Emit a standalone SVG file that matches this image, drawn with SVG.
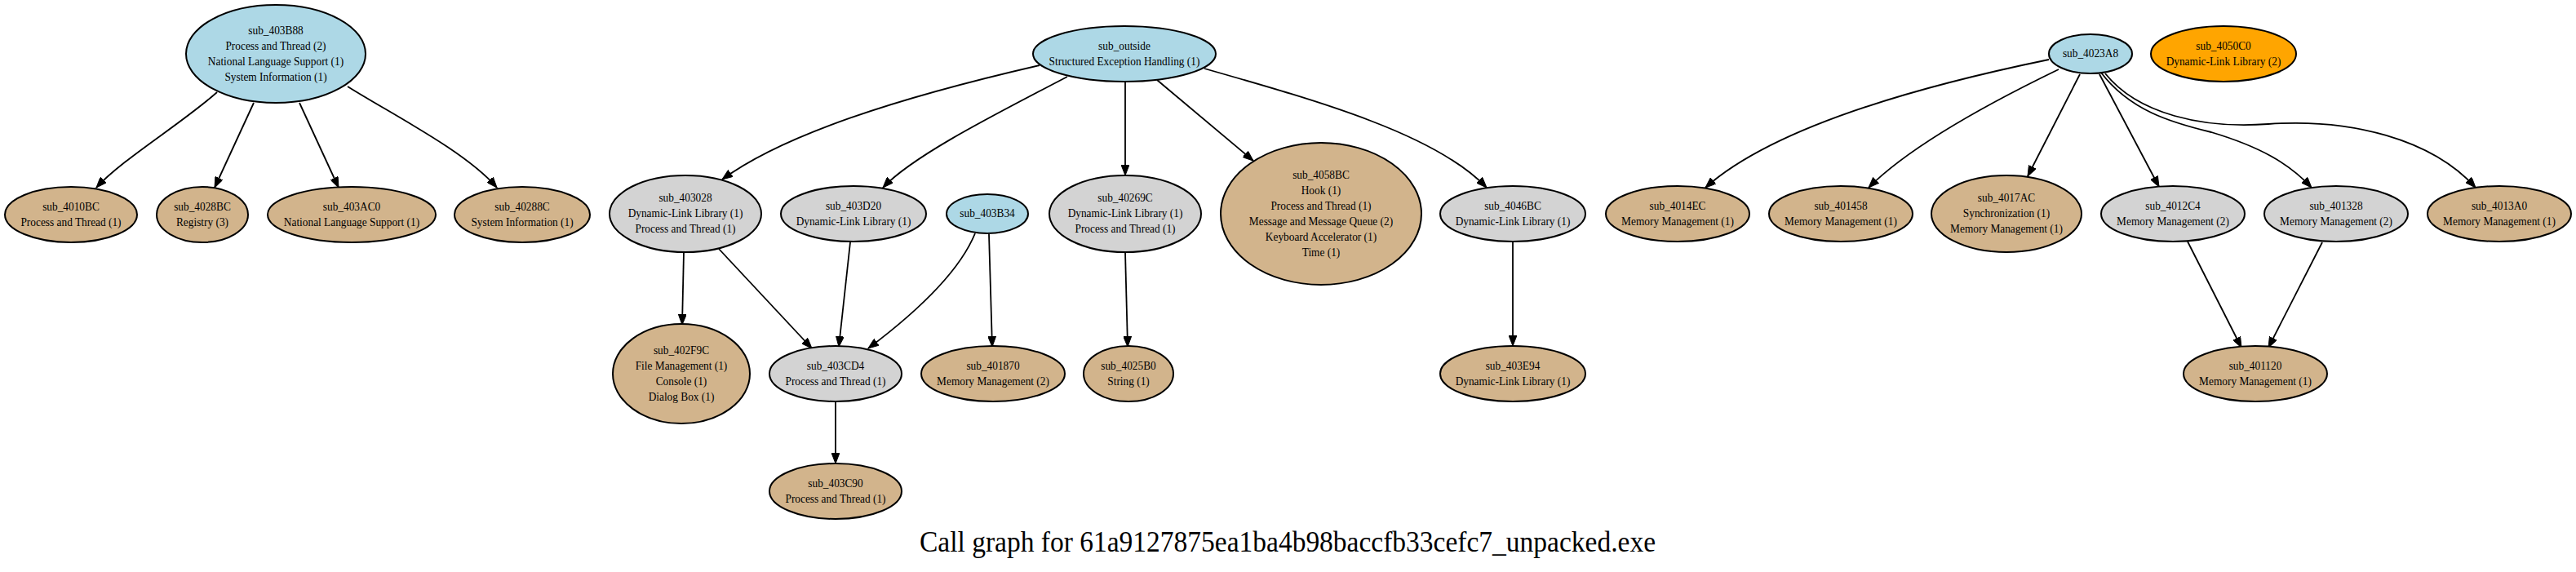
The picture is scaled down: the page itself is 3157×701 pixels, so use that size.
<svg xmlns="http://www.w3.org/2000/svg" width="3157" height="701" viewBox="0 0 3157 701">
<style>
.bg{fill:#ffffff}
ellipse{stroke:#000;stroke-width:2}
.blue{fill:#add8e6}
.tan{fill:#d2b48c}
.gray{fill:#d3d3d3}
.orange{fill:#ffa500}
text.n{font-family:"Liberation Serif","Times New Roman",serif;font-size:15px;text-anchor:middle;fill:#000;transform-box:fill-box;transform-origin:center;transform:scaleX(0.89)}
.e path{fill:none;stroke:#000;stroke-width:1.8;marker-end:url(#ah)}
.title{font-family:"Liberation Serif","Times New Roman",serif;font-size:36px;text-anchor:middle;fill:#000}
</style>
<defs>
<marker id="ah" markerUnits="userSpaceOnUse" markerWidth="14" markerHeight="10" refX="13" refY="5" orient="auto">
<path d="M0,0 L13,5 L0,10 z" fill="#000" stroke="#000" stroke-width="1"/>
</marker>
</defs>
<rect class="bg" x="0" y="0" width="3157" height="701"/>
<g id="edges" class="e">
<path d="M266,113 C222,152 150,195 118,230"/>
<path d="M311,126 L263,230"/>
<path d="M367,126 L415,230"/>
<path d="M426,106 C480,140 570,185 609,230"/>
<path d="M1274,80 C1100,120 960,165 885,220"/>
<path d="M1308,94 C1220,140 1120,190 1082,230"/>
<path d="M1379,100 L1379,215"/>
<path d="M1418,98 L1536,197"/>
<path d="M1476,84 C1620,125 1760,165 1822,230"/>
<path d="M838,309 L836,398"/>
<path d="M881,305 L995,427"/>
<path d="M1042,297 L1028,425"/>
<path d="M1195,286 C1175,335 1120,385 1064,427"/>
<path d="M1212,287 L1216,425"/>
<path d="M1379,309 L1382,425"/>
<path d="M1854,296 L1854,424"/>
<path d="M1024,493 L1024,568"/>
<path d="M2511,73 C2380,100 2180,150 2090,230"/>
<path d="M2523,85 C2430,130 2340,180 2290,230"/>
<path d="M2549,91 L2485,216"/>
<path d="M2573,91 L2646,229"/>
<path d="M2575,89 C2610,135 2660,150 2710,162 C2770,180 2805,200 2833,230"/>
<path d="M2580,90 C2620,140 2700,158 2780,152 C2880,145 2980,170 3034,230"/>
<path d="M2681,296 L2747,426"/>
<path d="M2846,297 L2780,426"/>
</g>
<g id="sub_403B88"><ellipse class="blue" cx="338" cy="66" rx="110" ry="60"/>
<text class="n" x="338" y="42.5">sub_403B88</text><text class="n" x="338" y="61.5">Process and Thread (2)</text><text class="n" x="338" y="80.5">National Language Support (1)</text><text class="n" x="338" y="99.5">System Information (1)</text></g>
<g id="sub_outside"><ellipse class="blue" cx="1378" cy="66" rx="112" ry="34"/>
<text class="n" x="1378" y="61">sub_outside</text><text class="n" x="1378" y="80">Structured Exception Handling (1)</text></g>
<g id="sub_4023A8"><ellipse class="blue" cx="2562" cy="66" rx="51" ry="24"/>
<text class="n" x="2562" y="70.5">sub_4023A8</text></g>
<g id="sub_4050C0"><ellipse class="orange" cx="2725" cy="66" rx="89" ry="34"/>
<text class="n" x="2725" y="61">sub_4050C0</text><text class="n" x="2725" y="80">Dynamic-Link Library (2)</text></g>
<g id="sub_4010BC"><ellipse class="tan" cx="87" cy="263" rx="81" ry="34"/>
<text class="n" x="87" y="258">sub_4010BC</text><text class="n" x="87" y="277">Process and Thread (1)</text></g>
<g id="sub_4028BC"><ellipse class="tan" cx="248" cy="263" rx="56" ry="34"/>
<text class="n" x="248" y="258">sub_4028BC</text><text class="n" x="248" y="277">Registry (3)</text></g>
<g id="sub_403AC0"><ellipse class="tan" cx="431" cy="263" rx="103" ry="34"/>
<text class="n" x="431" y="258">sub_403AC0</text><text class="n" x="431" y="277">National Language Support (1)</text></g>
<g id="sub_40288C"><ellipse class="tan" cx="640" cy="263" rx="83" ry="34"/>
<text class="n" x="640" y="258">sub_40288C</text><text class="n" x="640" y="277">System Information (1)</text></g>
<g id="sub_403028"><ellipse class="gray" cx="840" cy="262" rx="93" ry="47"/>
<text class="n" x="840" y="247.5">sub_403028</text><text class="n" x="840" y="266.5">Dynamic-Link Library (1)</text><text class="n" x="840" y="285.5">Process and Thread (1)</text></g>
<g id="sub_403D20"><ellipse class="gray" cx="1046" cy="262" rx="89" ry="34"/>
<text class="n" x="1046" y="257">sub_403D20</text><text class="n" x="1046" y="276">Dynamic-Link Library (1)</text></g>
<g id="sub_403B34"><ellipse class="blue" cx="1210" cy="262" rx="50" ry="24"/>
<text class="n" x="1210" y="266.5">sub_403B34</text></g>
<g id="sub_40269C"><ellipse class="gray" cx="1379" cy="262" rx="93" ry="47"/>
<text class="n" x="1379" y="247.5">sub_40269C</text><text class="n" x="1379" y="266.5">Dynamic-Link Library (1)</text><text class="n" x="1379" y="285.5">Process and Thread (1)</text></g>
<g id="sub_4058BC"><ellipse class="tan" cx="1619" cy="262" rx="123" ry="87"/>
<text class="n" x="1619" y="219">sub_4058BC</text><text class="n" x="1619" y="238">Hook (1)</text><text class="n" x="1619" y="257">Process and Thread (1)</text><text class="n" x="1619" y="276">Message and Message Queue (2)</text><text class="n" x="1619" y="295">Keyboard Accelerator (1)</text><text class="n" x="1619" y="314">Time (1)</text></g>
<g id="sub_4046BC"><ellipse class="gray" cx="1854" cy="262" rx="89" ry="34"/>
<text class="n" x="1854" y="257">sub_4046BC</text><text class="n" x="1854" y="276">Dynamic-Link Library (1)</text></g>
<g id="sub_4014EC"><ellipse class="tan" cx="2056" cy="262" rx="88" ry="34"/>
<text class="n" x="2056" y="257">sub_4014EC</text><text class="n" x="2056" y="276">Memory Management (1)</text></g>
<g id="sub_401458"><ellipse class="tan" cx="2256" cy="262" rx="88" ry="34"/>
<text class="n" x="2256" y="257">sub_401458</text><text class="n" x="2256" y="276">Memory Management (1)</text></g>
<g id="sub_4017AC"><ellipse class="tan" cx="2459" cy="262" rx="92" ry="47"/>
<text class="n" x="2459" y="247.5">sub_4017AC</text><text class="n" x="2459" y="266.5">Synchronization (1)</text><text class="n" x="2459" y="285.5">Memory Management (1)</text></g>
<g id="sub_4012C4"><ellipse class="gray" cx="2663" cy="262" rx="88" ry="34"/>
<text class="n" x="2663" y="257">sub_4012C4</text><text class="n" x="2663" y="276">Memory Management (2)</text></g>
<g id="sub_401328"><ellipse class="gray" cx="2863" cy="262" rx="88" ry="34"/>
<text class="n" x="2863" y="257">sub_401328</text><text class="n" x="2863" y="276">Memory Management (2)</text></g>
<g id="sub_4013A0"><ellipse class="tan" cx="3063" cy="262" rx="88" ry="34"/>
<text class="n" x="3063" y="257">sub_4013A0</text><text class="n" x="3063" y="276">Memory Management (1)</text></g>
<g id="sub_402F9C"><ellipse class="tan" cx="835" cy="458" rx="84" ry="61"/>
<text class="n" x="835" y="434">sub_402F9C</text><text class="n" x="835" y="453">File Management (1)</text><text class="n" x="835" y="472">Console (1)</text><text class="n" x="835" y="491">Dialog Box (1)</text></g>
<g id="sub_403CD4"><ellipse class="gray" cx="1024" cy="458" rx="81" ry="34"/>
<text class="n" x="1024" y="453">sub_403CD4</text><text class="n" x="1024" y="472">Process and Thread (1)</text></g>
<g id="sub_401870"><ellipse class="tan" cx="1217" cy="458" rx="88" ry="34"/>
<text class="n" x="1217" y="453">sub_401870</text><text class="n" x="1217" y="472">Memory Management (2)</text></g>
<g id="sub_4025B0"><ellipse class="tan" cx="1383" cy="458" rx="55" ry="34"/>
<text class="n" x="1383" y="453">sub_4025B0</text><text class="n" x="1383" y="472">String (1)</text></g>
<g id="sub_403E94"><ellipse class="tan" cx="1854" cy="458" rx="89" ry="34"/>
<text class="n" x="1854" y="453">sub_403E94</text><text class="n" x="1854" y="472">Dynamic-Link Library (1)</text></g>
<g id="sub_401120"><ellipse class="tan" cx="2764" cy="458" rx="88" ry="34"/>
<text class="n" x="2764" y="453">sub_401120</text><text class="n" x="2764" y="472">Memory Management (1)</text></g>
<g id="sub_403C90"><ellipse class="tan" cx="1024" cy="602" rx="81" ry="34"/>
<text class="n" x="1024" y="597">sub_403C90</text><text class="n" x="1024" y="616">Process and Thread (1)</text></g>
<text class="title" x="1578" y="676" textLength="902" lengthAdjust="spacingAndGlyphs">Call graph for 61a9127875ea1ba4b98baccfb33cefc7_unpacked.exe</text>
</svg>
